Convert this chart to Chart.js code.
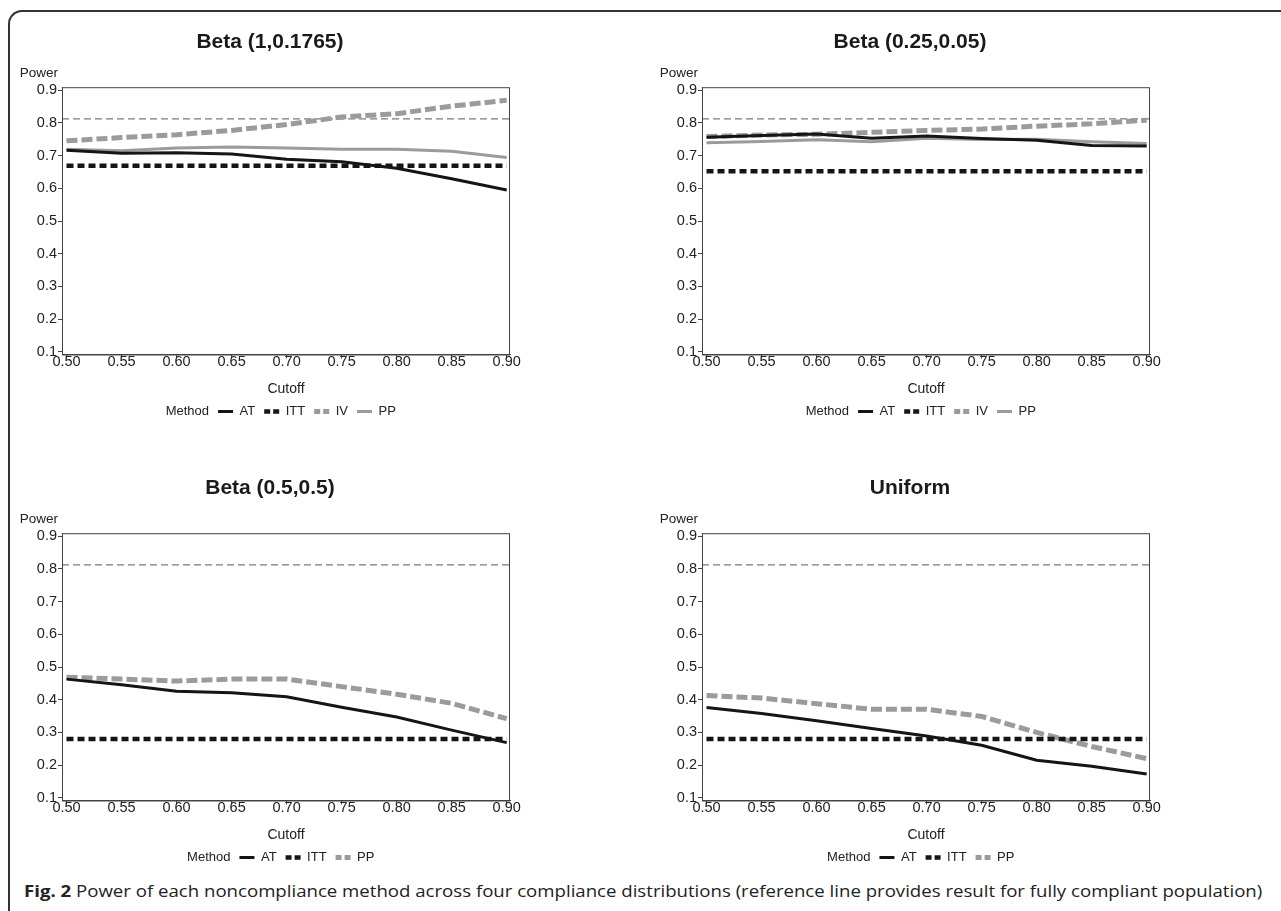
<!DOCTYPE html>
<html>
<head>
<meta charset="utf-8">
<script src="https://cdn.jsdelivr.net/npm/chart.js@4.4.1/dist/chart.umd.min.js"></script>
<style>
  body { margin: 0; background: #fff; width: 1281px; height: 911px; position: relative; overflow: hidden; }
  .frame { position: absolute; left: 8px; top: 10px; width: 1300px; height: 940px;
           border-top: 2px solid #333; border-left: 2px solid #333; border-top-left-radius: 14px; }
  .panel { position: absolute; }
  #caption { position: absolute; left: 24px; top: 881px; font-family: 'Open Sans', sans-serif; font-size: 15.5px;
             line-height: 20px; color: #222; white-space: nowrap; transform-origin: left center; }
  #caption b { font-weight: 700; }
</style>
</head>
<body>
<div class="frame"></div>
<canvas id="c1" class="panel" width="518" height="406" style="left:12px;top:22px"></canvas>
<canvas id="c2" class="panel" width="518" height="406" style="left:652px;top:22px"></canvas>
<canvas id="c3" class="panel" width="518" height="406" style="left:12px;top:468px"></canvas>
<canvas id="c4" class="panel" width="518" height="406" style="left:652px;top:468px"></canvas>
<div id="caption"><b>Fig. 2</b> Power of each noncompliance method across four compliance distributions (reference line provides result for fully compliant population)</div>

<script>
// values
const cutoffs = [0.50, 0.55, 0.60, 0.65, 0.70, 0.75, 0.80, 0.85, 0.90];
const xTicks = [0.50, 0.55, 0.60, 0.65, 0.70, 0.75, 0.80, 0.85, 0.90];
const yTicks = [0.1, 0.2, 0.3, 0.4, 0.5, 0.6, 0.7, 0.8, 0.9];
const refPower = 0.812;

const beta1AT  = [0.716, 0.707, 0.709, 0.705, 0.689, 0.681, 0.661, 0.629, 0.595];
const beta1ITT = [0.669, 0.669, 0.669, 0.669, 0.669, 0.669, 0.669, 0.669, 0.669];
const beta1IV  = [0.745, 0.755, 0.764, 0.777, 0.795, 0.818, 0.828, 0.851, 0.869];
const beta1PP  = [0.719, 0.715, 0.723, 0.726, 0.723, 0.719, 0.719, 0.713, 0.694];

const beta2AT  = [0.756, 0.761, 0.766, 0.753, 0.760, 0.752, 0.747, 0.731, 0.729];
const beta2ITT = [0.652, 0.652, 0.652, 0.652, 0.652, 0.652, 0.652, 0.652, 0.652];
const beta2IV  = [0.758, 0.763, 0.765, 0.771, 0.777, 0.781, 0.790, 0.797, 0.808];
const beta2PP  = [0.739, 0.743, 0.748, 0.742, 0.753, 0.749, 0.750, 0.742, 0.737];

const beta3AT  = [0.463, 0.446, 0.426, 0.421, 0.409, 0.377, 0.347, 0.307, 0.269];
const beta3ITT = [0.280, 0.280, 0.280, 0.280, 0.280, 0.280, 0.280, 0.280, 0.280];
const beta3PP  = [0.469, 0.463, 0.457, 0.463, 0.463, 0.440, 0.417, 0.389, 0.342];

const unifAT  = [0.376, 0.358, 0.336, 0.312, 0.289, 0.261, 0.215, 0.197, 0.173];
const unifITT = [0.280, 0.280, 0.280, 0.280, 0.280, 0.280, 0.280, 0.280, 0.280];
const unifPP  = [0.413, 0.405, 0.388, 0.371, 0.371, 0.349, 0.300, 0.257, 0.220];

const X_MIN = 0.4959, X_MAX = 0.903;
const Y_MIN = 0.092, Y_MAX = 0.909;

const FONT = "'Liberation Sans', Arial, sans-serif";

const styles = {
  solidBlack: { borderColor: '#151515', borderWidth: 3, borderDash: [], legendDash: [] },
  dashedBlack: { borderColor: '#151515', borderWidth: 4.5, borderDash: [7, 4], legendDash: [6, 3] },
  dashedGrey: { borderColor: '#9b9b9b', borderWidth: 5, borderDash: [11, 4], legendDash: [6, 3] },
  solidGrey: { borderColor: '#9b9b9b', borderWidth: 3, borderDash: [], legendDash: [] }
};

const framePlugin = {
  id: 'frameAndPower',
  afterDraw(chart) {
    const { ctx, chartArea: a } = chart;
    ctx.save();
    ctx.strokeStyle = '#444';
    ctx.lineWidth = 1;
    ctx.strokeRect(a.left + 0.5, a.top + 0.5, a.right - a.left - 1, a.bottom - a.top);
    ctx.fillStyle = '#222';
    ctx.font = '13.5px ' + FONT;
    ctx.textAlign = 'right';
    ctx.textBaseline = 'middle';
    ctx.fillText('Power', a.left - 4, a.top - 14);
    ctx.restore();
  }
};

function toPoints(arr) {
  return cutoffs.map((c, i) => ({ x: c, y: arr[i] }));
}

function makeChart(id, title, series) {
  const datasets = series.map(s => ({
    label: s.label,
    data: toPoints(s.data),
    borderColor: s.style.borderColor,
    borderWidth: s.style.borderWidth,
    borderDash: s.style.borderDash,
    borderCapStyle: 'butt',
    pointRadius: 0,
    tension: 0
  }));
  datasets.push({
    label: 'ref',
    data: [{ x: X_MIN, y: refPower }, { x: X_MAX, y: refPower }],
    borderColor: '#7a7a7a',
    borderWidth: 1.3,
    borderDash: [7, 4],
    pointRadius: 0
  });

  new Chart(document.getElementById(id), {
    type: 'line',
    data: { datasets },
    plugins: [framePlugin],
    options: {
      responsive: false,
      animation: false,
      layout: { padding: { left: 18, right: 20, top: 0, bottom: 0 } },
      plugins: {
        title: {
          display: true, text: title, color: '#1a1a1a',
          font: { family: FONT, size: 21, weight: 'bold', lineHeight: 1.2 },
          padding: { top: 8, bottom: 32 }
        },
        legend: {
          position: 'bottom',
          labels: {
            usePointStyle: true, pointStyle: 'line', pointStyleWidth: 15,
            color: '#222', padding: 9,
            font: { family: FONT, size: 13, lineHeight: 1 },
            generateLabels(chart) {
              const items = Chart.defaults.plugins.legend.labels.generateLabels(chart)
                .filter(it => it.text !== 'ref');
              items.forEach(it => {
                const s = series.find(q => q.label === it.text);
                it.lineDash = s.style.legendDash;
                it.lineCap = 'butt';
              });
              items.unshift({ text: 'Method', fillStyle: 'rgba(0,0,0,0)', strokeStyle: 'rgba(0,0,0,0)',
                lineWidth: 0, pointStyle: 'line', hidden: false, datasetIndex: -1, fontColor: '#222' });
              return items;
            }
          },
          onClick: () => {}
        },
        tooltip: { enabled: false }
      },
      scales: {
        x: {
          type: 'linear', min: X_MIN, max: X_MAX,
          afterBuildTicks: axis => { axis.ticks = xTicks.map(v => ({ value: v })); },
          grid: { drawOnChartArea: false, drawTicks: true, tickLength: 4, color: '#444' },
          border: { display: true, color: '#444' },
          ticks: { color: '#222', padding: -4, maxRotation: 0, autoSkip: false,
                   font: { family: FONT, size: 14.5, lineHeight: 1 },
                   callback: v => v.toFixed(2) },
          title: { display: true, text: 'Cutoff', color: '#222',
                   font: { family: FONT, size: 14, lineHeight: 1 },
                   padding: { top: 17, bottom: 0 } }
        },
        y: {
          min: Y_MIN, max: Y_MAX,
          afterBuildTicks: axis => { axis.ticks = yTicks.map(v => ({ value: v })); },
          afterFit: axis => { axis.width = 32; },
          grid: { drawOnChartArea: false, drawTicks: true, tickLength: 4, color: '#444' },
          border: { display: true, color: '#444' },
          ticks: { color: '#222', padding: 1, autoSkip: false,
                   font: { family: FONT, size: 14.5, lineHeight: 1 },
                   callback: v => v.toFixed(1) }
        }
      }
    }
  });
}

makeChart('c1', 'Beta (1,0.1765)', [
  { label: 'AT', data: beta1AT, style: styles.solidBlack },
  { label: 'ITT', data: beta1ITT, style: styles.dashedBlack },
  { label: 'IV', data: beta1IV, style: styles.dashedGrey },
  { label: 'PP', data: beta1PP, style: styles.solidGrey }
]);
makeChart('c2', 'Beta (0.25,0.05)', [
  { label: 'AT', data: beta2AT, style: styles.solidBlack },
  { label: 'ITT', data: beta2ITT, style: styles.dashedBlack },
  { label: 'IV', data: beta2IV, style: styles.dashedGrey },
  { label: 'PP', data: beta2PP, style: styles.solidGrey }
]);
makeChart('c3', 'Beta (0.5,0.5)', [
  { label: 'AT', data: beta3AT, style: styles.solidBlack },
  { label: 'ITT', data: beta3ITT, style: styles.dashedBlack },
  { label: 'PP', data: beta3PP, style: styles.dashedGrey }
]);
makeChart('c4', 'Uniform', [
  { label: 'AT', data: unifAT, style: styles.solidBlack },
  { label: 'ITT', data: unifITT, style: styles.dashedBlack },
  { label: 'PP', data: unifPP, style: styles.dashedGrey }
]);

// stretch the caption to the width it takes in the figure
const cap = document.getElementById('caption');
cap.style.transform = 'scaleX(' + (1238 / cap.offsetWidth) + ')';
</script>
</body>
</html>
